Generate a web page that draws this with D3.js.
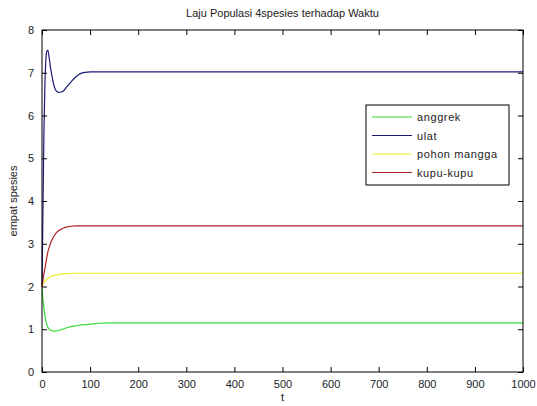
<!DOCTYPE html>
<html><head><meta charset="utf-8">
<script src="https://cdn.jsdelivr.net/npm/d3@7"></script>
<style>body{margin:0;background:#fff;}svg{display:block;font-family:"Liberation Sans",Arial,sans-serif;}</style>
</head><body><div id="chart"></div>
<script>
const title = "Laju Populasi 4spesies terhadap Waktu";
const xLabel = "t";
const yLabel = "empat spesies";
const xTicks = [0,100,200,300,400,500,600,700,800,900,1000];
const yTicks = [0,1,2,3,4,5,6,7,8];
const seriesNames = ["anggrek","ulat","pohon mangga","kupu-kupu"];
const seriesColors = ["#33dd33","#1a1a7a","#f0f020","#b02020"];
const tValues = [0,2,4,6,8,10,12,15,18,22,26,30,35,40,45,50,60,70,80,90,100,120,150,200,300,400,500,600,700,800,900,1000];
const anggrek = [1.95,1.7,1.5,1.33,1.2,1.11,1.05,1.0,0.975,0.96,0.955,0.96,0.97,0.99,1.01,1.03,1.06,1.08,1.1,1.11,1.12,1.14,1.15,1.15,1.15,1.15,1.15,1.15,1.15,1.15,1.15,1.15];
const ulat = [2.0,3.8,5.6,6.7,7.3,7.5,7.53,7.35,7.1,6.85,6.66,6.57,6.54,6.55,6.58,6.65,6.78,6.9,6.98,7.01,7.02,7.02,7.02,7.02,7.02,7.02,7.02,7.02,7.02,7.02,7.02,7.02];
const pohonMangga = [2.0,2.05,2.09,2.12,2.15,2.17,2.19,2.21,2.23,2.25,2.26,2.27,2.28,2.29,2.295,2.3,2.31,2.31,2.31,2.31,2.31,2.31,2.31,2.31,2.31,2.31,2.31,2.31,2.31,2.31,2.31,2.31];
const kupuKupu = [2.0,2.15,2.3,2.42,2.55,2.68,2.8,2.92,3.02,3.12,3.2,3.26,3.31,3.34,3.37,3.39,3.41,3.42,3.42,3.42,3.42,3.42,3.42,3.42,3.42,3.42,3.42,3.42,3.42,3.42,3.42,3.42];
const seriesValues = [anggrek, ulat, pohonMangga, kupuKupu];

const W = 537, H = 406;
const m = {left:42, right:14, top:30, bottom:34};
const svg = d3.select("#chart").append("svg").attr("width",W).attr("height",H);
const x = d3.scaleLinear().domain([0,1000]).range([m.left, W-m.right]);
const y = d3.scaleLinear().domain([0,8]).range([H-m.bottom, m.top]);

svg.append("rect").attr("x",m.left).attr("y",m.top).attr("width",x(1000)-x(0)).attr("height",y(0)-y(8)).attr("fill","#fff");

const line = d3.line().x(d=>x(d[0])).y(d=>y(d[1])).curve(d3.curveMonotoneX);
seriesValues.forEach((vals,i)=>{
  svg.append("path").datum(tValues.map((t,j)=>[t,vals[j]]))
    .attr("d",line).attr("fill","none").attr("stroke",seriesColors[i]).attr("stroke-width",1.2);
});

const axStyle = g=>{g.select(".domain").remove(); g.selectAll("line").attr("stroke","#000"); g.selectAll("text").attr("fill","#222").attr("font-size",11).attr("font-family","Liberation Sans, Arial, sans-serif");};
svg.append("g").attr("transform",`translate(0,${y(0)})`).call(d3.axisBottom(x).tickValues(xTicks).tickSize(-5).tickPadding(8).tickFormat(d3.format("d"))).call(axStyle);
svg.append("g").attr("transform",`translate(0,${y(8)})`).call(d3.axisTop(x).tickValues(xTicks).tickSize(-5).tickFormat("")).call(axStyle);
svg.append("g").attr("transform",`translate(${x(0)},0)`).call(d3.axisLeft(y).tickValues(yTicks).tickSize(-5).tickPadding(8).tickFormat(d3.format("d"))).call(axStyle);
svg.append("g").attr("transform",`translate(${x(1000)},0)`).call(d3.axisRight(y).tickValues(yTicks).tickSize(-5).tickFormat("")).call(axStyle);

svg.append("rect").attr("x",m.left).attr("y",m.top).attr("width",x(1000)-x(0)).attr("height",y(0)-y(8)).attr("fill","none").attr("stroke","#000").attr("stroke-width",1);

svg.append("text").attr("x",(x(0)+x(1000))/2).attr("y",17).attr("text-anchor","middle").attr("font-size",11).attr("fill","#222").text(title);
svg.append("text").attr("x",(x(0)+x(1000))/2).attr("y",401).attr("text-anchor","middle").attr("font-size",11).attr("fill","#222").text(xLabel);
svg.append("text").attr("transform",`translate(17,${(y(0)+y(8))/2}) rotate(-90)`).attr("text-anchor","middle").attr("font-size",11).attr("fill","#222").text(yLabel);

const lg = svg.append("g").attr("transform","translate(366,105)");
lg.append("rect").attr("width",143).attr("height",80).attr("fill","#fff").attr("stroke","#000");
seriesNames.forEach((n,i)=>{
  const yy = 12 + i*18.5;
  lg.append("line").attr("x1",6).attr("x2",46).attr("y1",yy).attr("y2",yy).attr("stroke",seriesColors[i]).attr("stroke-width",1.2);
  lg.append("text").attr("x",51).attr("y",yy+4).attr("font-size",11).attr("fill","#222").attr("letter-spacing",0.6).text(n);
});
</script></body></html>
